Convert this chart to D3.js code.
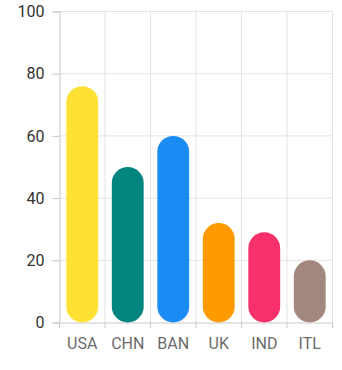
<!DOCTYPE html>
<html><head><meta charset="utf-8">
<script src="https://cdn.jsdelivr.net/npm/d3@7"></script>
<style>body{margin:0;background:#fff}svg{display:block}text{font-family:Roboto,sans-serif}</style>
</head><body>
<script>
const categories = ["USA","CHN","BAN","UK","IND","ITL"];
const values = [76,50,60,32,29,20];
const colors = ["#FEE134","#00857F","#1A8CF4","#FF9A00","#F9316A","#A1877E"];
const yTicks = [0,20,40,60,80,100];

(function(){
const W=342,H=370;
const svg=d3.select("body").append("svg").attr("width",W).attr("height",H);
const mLeft=59.5,mRight=332.5,mTop=11.5,mBottom=322.5;
const x=d3.scaleBand().domain(categories).range([mLeft,mRight]).padding(0);
const y=d3.scaleLinear().domain([0,100]).range([mBottom,mTop]);

svg.append("g").selectAll("line").data(yTicks.filter(d=>d>0)).join("line")
 .attr("x1",mLeft).attr("x2",mRight).attr("y1",d=>y(d)).attr("y2",d=>y(d))
 .attr("stroke","#e3e3e3");
const bounds=categories.map(c=>x(c)).concat([mRight]);
svg.append("g").selectAll("line").data(bounds.slice(1)).join("line")
 .attr("x1",d=>d).attr("x2",d=>d).attr("y1",mTop).attr("y2",mBottom)
 .attr("stroke","#e3e3e3");

const ya=svg.append("g").attr("transform",`translate(${mLeft},0)`)
 .call(d3.axisLeft(y).tickValues(yTicks).tickSize(7).tickPadding(8));
ya.select(".domain").attr("stroke","#c8c8c8");
ya.selectAll(".tick line").attr("stroke","#c8c8c8");
ya.selectAll("text").attr("font-size",16).attr("fill","#333").attr("font-family","Roboto");

const xa=svg.append("g").attr("transform",`translate(0,${mBottom})`)
 .call(d3.axisBottom(x).tickSize(0).tickPadding(15));
xa.select(".domain").attr("stroke","#c8c8c8");
xa.selectAll(".tick line").remove();
xa.selectAll("text").attr("font-size",16).attr("fill","#6b6b6b").attr("font-family","Roboto");
svg.append("g").selectAll("line").data(bounds).join("line")
 .attr("x1",d=>d).attr("x2",d=>d).attr("y1",mBottom).attr("y2",mBottom+6)
 .attr("stroke","#c8c8c8");

const bw=x.bandwidth()*0.7;
svg.append("g").selectAll("rect").data(categories).join("rect")
 .attr("x",(d)=>x(d)+(x.bandwidth()-bw)/2)
 .attr("width",bw)
 .attr("y",(d,i)=>y(values[i]))
 .attr("height",(d,i)=>y(0)-y(values[i]))
 .attr("rx",bw/2).attr("ry",bw/2)
 .attr("fill",(d,i)=>colors[i]);
})();
</script>
</body></html>
